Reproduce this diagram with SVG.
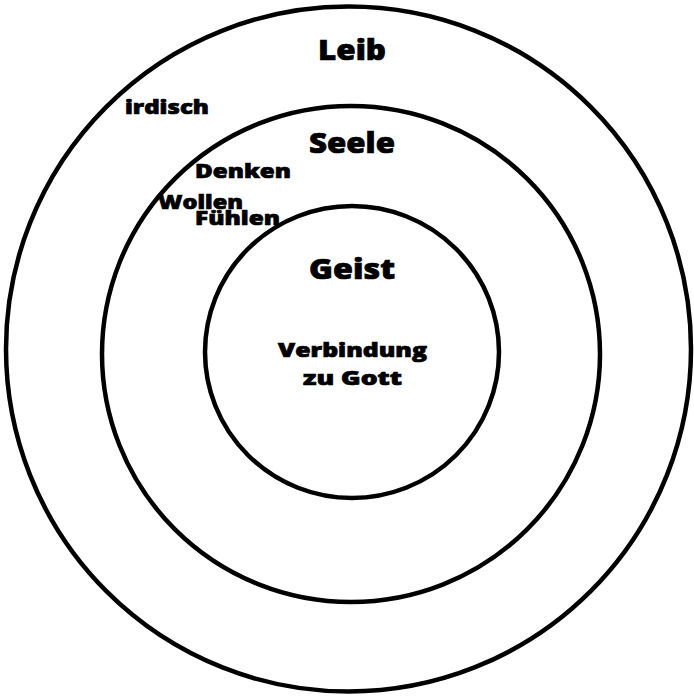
<svg xmlns="http://www.w3.org/2000/svg" width="694" height="696" viewBox="0 0 694 696">
<style>
.ring{fill:none;stroke:#000;stroke-width:4.5}
.t{font-family:"Open Sans","DejaVu Sans",sans-serif;font-weight:800;fill:#000;stroke:#000;stroke-width:0.7}
.big{font-size:28px}
.sm{font-size:19.5px}
</style>
<rect width="694" height="696" fill="#fff"/>
<g id="leib">
<ellipse class="ring" cx="348.5" cy="349" rx="342.5" ry="342.5"/>
<text class="t big" x="318" y="60" textLength="68" lengthAdjust="spacingAndGlyphs">Leib</text>
<text class="t sm" x="125" y="114" textLength="84" lengthAdjust="spacingAndGlyphs">irdisch</text>
</g>
<g id="seele">
<ellipse class="ring" cx="351" cy="354" rx="249" ry="248"/>
<text class="t big" x="309" y="153" textLength="86" lengthAdjust="spacingAndGlyphs">Seele</text>
<text class="t sm" x="195" y="178" textLength="96" lengthAdjust="spacingAndGlyphs">Denken</text>
<text class="t sm" x="158" y="209" textLength="85" lengthAdjust="spacingAndGlyphs">Wollen</text>
<text class="t sm" x="195" y="225" textLength="85" lengthAdjust="spacingAndGlyphs">Fühlen</text>
</g>
<g id="geist">
<ellipse class="ring" cx="352" cy="352" rx="147" ry="146"/>
<text class="t big" x="309" y="279" textLength="86" lengthAdjust="spacingAndGlyphs">Geist</text>
<text class="t sm" x="278" y="357" textLength="149" lengthAdjust="spacingAndGlyphs">Verbindung</text>
<text class="t sm" x="303" y="385" textLength="99" lengthAdjust="spacingAndGlyphs">zu Gott</text>
</g>
<g id="connectors"></g>
</svg>
